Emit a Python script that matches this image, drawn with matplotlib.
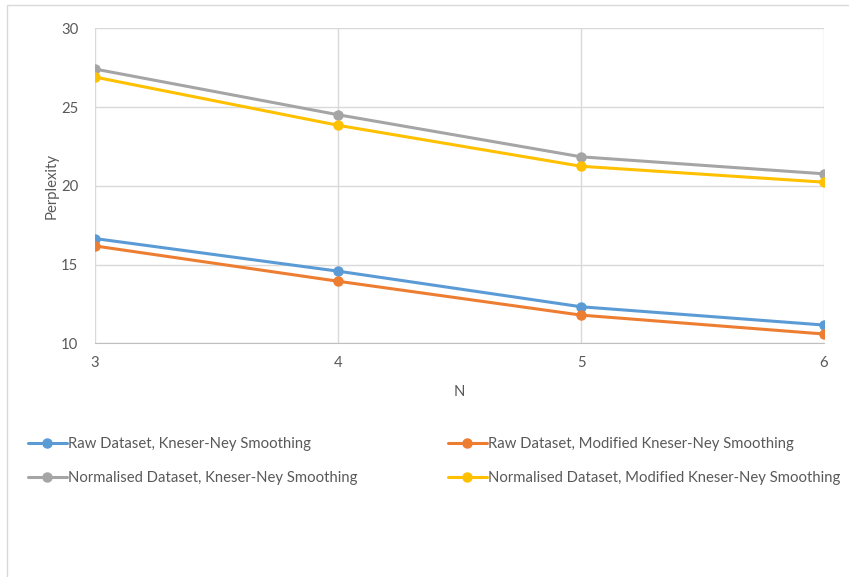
import matplotlib.pyplot as plt
from matplotlib.patches import Rectangle

n_vals = [3, 4, 5, 6]
raw_kn = [16.65, 14.58, 12.32, 11.16]
raw_mkn = [16.18, 13.94, 11.79, 10.59]
norm_kn = [27.41, 24.51, 21.84, 20.76]
norm_mkn = [26.90, 23.84, 21.24, 20.23]

labels = ['Raw Dataset, Kneser-Ney Smoothing',
          'Raw Dataset, Modified Kneser-Ney Smoothing',
          'Normalised Dataset, Kneser-Ney Smoothing',
          'Normalised Dataset, Modified Kneser-Ney Smoothing']
colors = ['#5B9BD5', '#ED7D31', '#A5A5A5', '#FFC000']

plt.rcParams['font.family'] = ['Lato', 'DejaVu Sans']
txt = '#595959'
fs = 10.7

fig = plt.figure(figsize=(8.49, 5.77), dpi=100)
ax = fig.add_axes([0.112, 0.405, 0.8586, 0.546])

series = [raw_kn, raw_mkn, norm_kn, norm_mkn]
lines = []
for ys, c, lab in zip(series, colors, labels):
    l, = ax.plot(n_vals, ys, '-o', color=c, lw=2.2, markersize=6.5, label=lab,
                 solid_capstyle='round', zorder=3)
    lines.append(l)

ax.set_xlim(3, 6)
ax.set_ylim(10, 30)
ax.set_xticks(n_vals)
ax.set_yticks([10, 15, 20, 25, 30])
ax.grid(True, color='#d9d9d9', lw=1)
for s in ['top', 'right', 'left']:
    ax.spines[s].set_visible(False)
ax.spines['bottom'].set_color('#bfbfbf')
ax.tick_params(length=0, labelsize=fs, colors=txt, pad=9)
ax.tick_params(axis='y', pad=12)
ax.set_xlabel('N', fontsize=fs, color=txt, labelpad=11)
ax.set_ylabel('Perplexity', fontsize=fs, color=txt, labelpad=2)

leg_kw = dict(frameon=False, fontsize=fs, handlelength=2.6, handletextpad=0.1,
              labelspacing=1.35, labelcolor=txt, borderaxespad=0, borderpad=0)
fig.legend([lines[0], lines[2]], [labels[0], labels[2]], loc='upper left',
           bbox_to_anchor=(28 / 849, 1 - 437 / 577), **leg_kw)
fig.legend([lines[1], lines[3]], [labels[1], labels[3]], loc='upper left',
           bbox_to_anchor=(448 / 849, 1 - 437 / 577), **leg_kw)

# chart area border
fig.patches.append(Rectangle((7 / 849, -0.1), 1.2, 1.1 - 5 / 577,
                             transform=fig.transFigure, fill=False,
                             edgecolor='#d9d9d9', lw=1))

fig.savefig('out.png', dpi=100)
